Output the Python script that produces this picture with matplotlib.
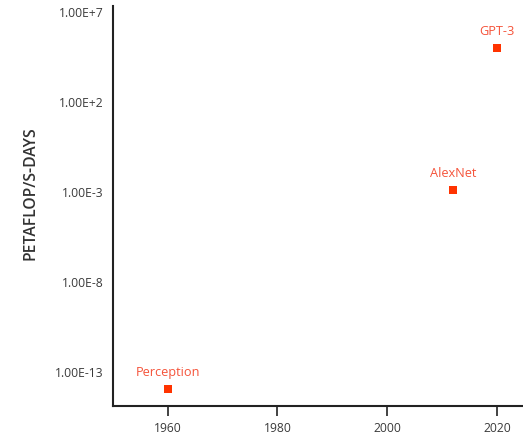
import numpy as np
import matplotlib
matplotlib.use("Agg")
import matplotlib.pyplot as plt
from matplotlib.ticker import FixedLocator, FuncFormatter

plt.rcParams['font.family'] = ['Open Sans', 'DejaVu Sans']

#--- data ---#
models = ["Perception", "AlexNet", "GPT-3"]
years = [1960, 2012, 2020]
pf_days = [1.0e-14, 1.1e-3, 8.5e4]

y_ticks = [1e-13, 1e-8, 1e-3, 1e2, 1e7]
x_ticks = [1960, 1980, 2000, 2020]

fig = plt.figure(figsize=(5.23, 4.39), dpi=100)
ax = fig.add_axes([0.2155, 0.0736, 0.7845, 0.9111])

ax.plot(years, pf_days, linestyle="none", marker="s", markersize=5.5,
        color="#ff3300", markeredgewidth=0)

for name, x, y in zip(models, years, pf_days):
    ax.annotate(name, (x, y), xytext=(0, 12.5), textcoords="offset points",
                ha="center", va="center", fontsize=9.2, color="#f5533a")

ax.set_yscale("log")
ax.set_ylim(10 ** -14.94, 10 ** 7.28)
ax.set_xlim(1950, 2024.7)

ax.yaxis.set_major_locator(FixedLocator(y_ticks))
ax.yaxis.set_minor_locator(FixedLocator([]))
ax.yaxis.set_major_formatter(FuncFormatter(
    lambda v, p: "%.2fE%+d" % (1.0, int(round(np.log10(v))))))
ax.set_xticks(x_ticks)

ax.tick_params(axis="y", length=0, pad=6.5, labelsize=8.7, labelcolor="#3a3a3a")
ax.tick_params(axis="x", length=7, width=1.2, color="#222222", pad=4,
               labelsize=8.7, labelcolor="#3a3a3a")

for side in ["top", "right"]:
    ax.spines[side].set_visible(False)
for side in ["left", "bottom"]:
    ax.spines[side].set_linewidth(1.5)
    ax.spines[side].set_color("#222222")

ax.set_ylabel("PETAFLOP/S-DAYS", fontsize=11.3, fontweight="semibold", color="#333333")
ax.yaxis.set_label_coords(-0.182, 0.534)

fig.savefig("out.png", dpi=100)
